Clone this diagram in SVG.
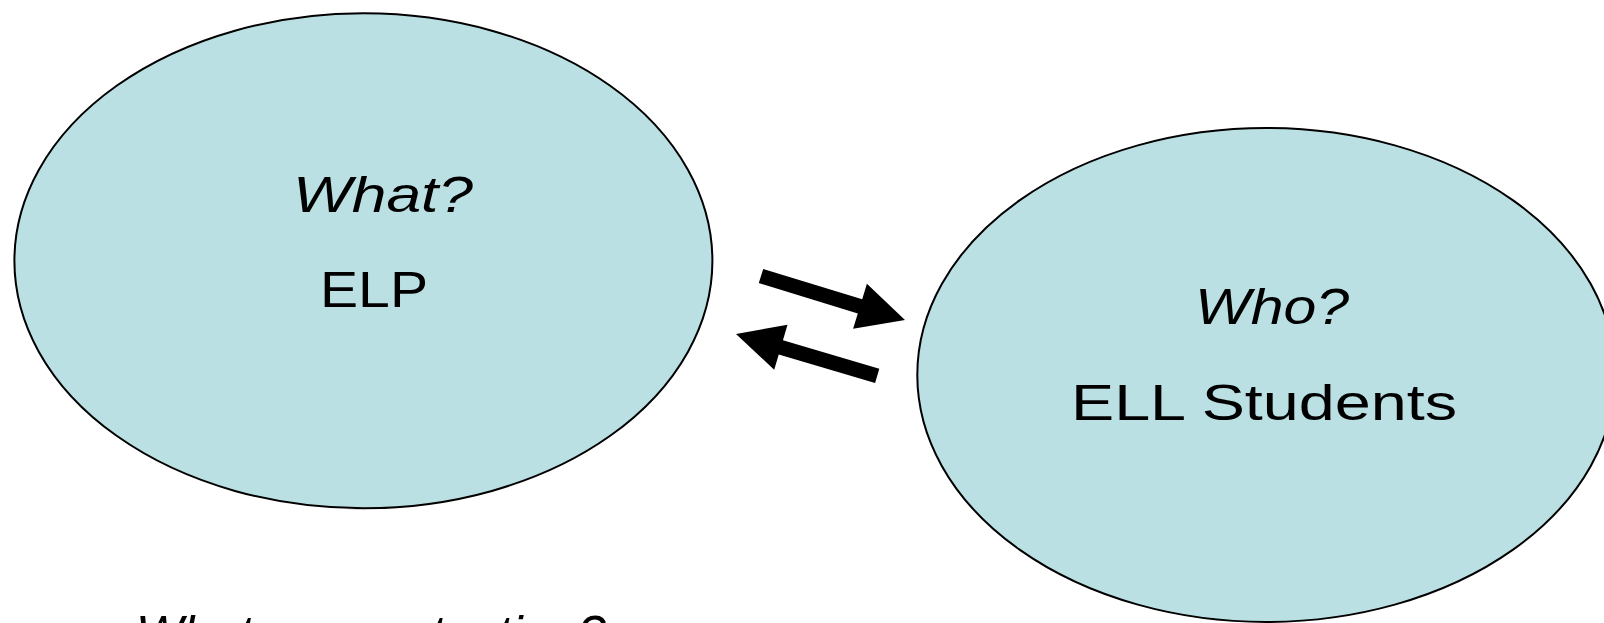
<svg xmlns="http://www.w3.org/2000/svg" width="1604" height="623" viewBox="0 0 1604 623">
<style>
.node{fill:#BBE0E3;stroke:#000;stroke-width:2}
.t{font-family:"Liberation Sans",Arial,sans-serif;font-size:50px;fill:#000}
.i{font-style:italic}
.arrow{fill:#000;stroke:none}
</style>
<rect width="1604" height="623" fill="#fff"/>
<g id="node-what">
<ellipse class="node" cx="363.4" cy="260.8" rx="349" ry="247.5"/>
<text class="t i" x="293" y="211.7" textLength="180" lengthAdjust="spacingAndGlyphs">What?</text>
<text class="t" x="320" y="306.7" textLength="108" lengthAdjust="spacingAndGlyphs">ELP</text>
</g>
<g id="node-who">
<ellipse class="node" cx="1266.3" cy="375" rx="349" ry="247"/>
<text class="t i" x="1195" y="324" textLength="154" lengthAdjust="spacingAndGlyphs">Who?</text>
<text class="t" x="1071" y="420" textLength="386" lengthAdjust="spacingAndGlyphs">ELL Students</text>
</g>
<g id="connectors">
<polygon class="arrow" points="763.2,268.9 862.2,299.2 866.9,283.8 905,320 853.1,328.8 857.8,313.4 758.8,283.1"/>
<polygon class="arrow" points="879.3,368.7 782.95,340.2 787.5,324.8 736,334 774.2,369.8 778.75,354.4 875.1,382.9"/>
</g>
<g id="caption">
<text class="t i" x="136" y="651" textLength="470" lengthAdjust="spacingAndGlyphs">What are we testing?</text>
</g>
</svg>
